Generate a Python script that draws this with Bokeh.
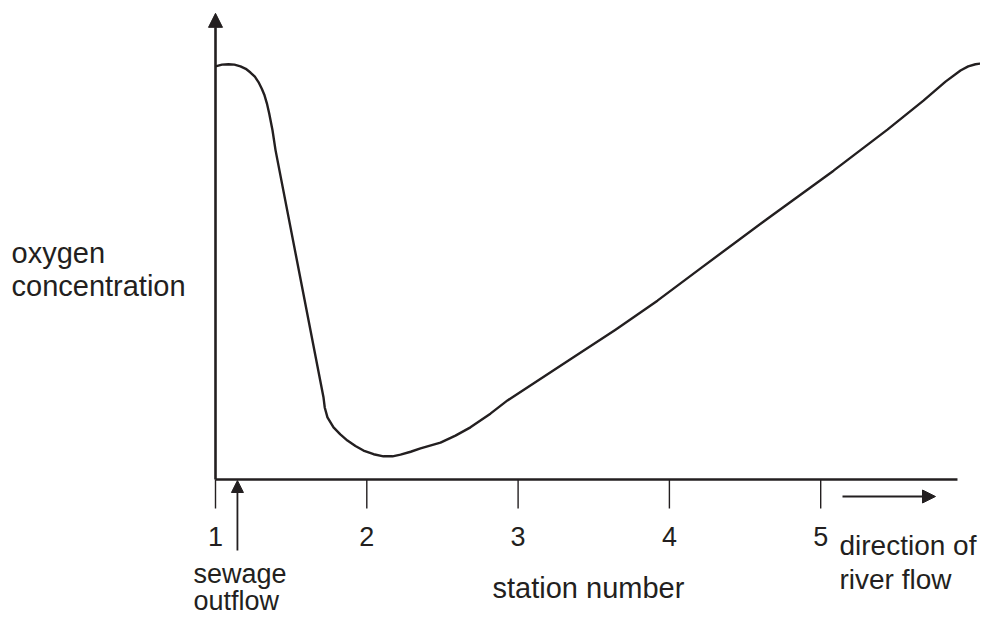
from bokeh.plotting import figure
from bokeh.models import Range1d, Arrow, NormalHead, ColumnDataSource
from bokeh.core.properties import value
from bokeh.embed import file_html
from bokeh.resources import INLINE

# ---- data ----
stations = [1, 2, 3, 4, 5]
tick_labels = ["1", "2", "3", "4", "5"]
curve_x = [1.000, 1.043, 1.086, 1.125, 1.165, 1.200, 1.231, 1.260, 1.284,
           1.306, 1.324, 1.340, 1.355, 1.377, 1.397,
           1.714, 1.722, 1.740, 1.780, 1.825, 1.872, 1.925, 1.978, 2.045,
           2.110, 2.170, 2.223, 2.290, 2.355, 2.487, 2.586, 2.685, 2.817,
           2.930, 3.366, 3.644, 3.921, 4.206, 4.648, 5.085, 5.441, 5.679,
           5.825, 5.924, 5.975, 6.023, 6.080, 6.135]
curve_y = [99.8, 100.2, 100.3, 100.2, 99.8, 99.2, 98.3, 97.3, 96.0,
           94.4, 92.8, 90.8, 88.4, 84.3, 79.5,
           19.8, 17.4, 15.0, 12.6, 10.9, 9.4, 8.1, 7.0, 6.1,
           5.6, 5.6, 6.0, 6.7, 7.5, 8.9, 10.6, 12.6, 15.9,
           19.1, 29.5, 36.2, 43.2, 51.0, 63.0, 74.6, 84.5, 91.5,
           96.1, 98.8, 99.8, 100.3, 100.6, 100.7]
x_axis_end = 5.904
y_axis_top = 112.6
sewage_station = 1.145

# ---- geometry helpers (canvas pixel -> data) ----
X0_PX, X_SCALE = 215.0, 151.3
Y0_PX, Y_SCALE = 479.0, 4.14
def dx(px):
    return 1 + (px - X0_PX) / X_SCALE
def dy(py):
    return (Y0_PX - py) / Y_SCALE

W, H = 980, 623
INK = "#231f20"
FONT = value("Liberation Sans")

p = figure(width=W, height=H, output_backend="svg", toolbar_location=None,
           x_range=Range1d(dx(0), dx(W)), y_range=Range1d(dy(H), dy(0)),
           x_axis_location=None, y_axis_location=None, min_border=0,
           outline_line_color=None, background_fill_color="white")
p.min_border_left = p.min_border_right = p.min_border_top = p.min_border_bottom = 0
p.grid.visible = False

# x axis line
p.segment(x0=[1], y0=[0], x1=[x_axis_end], y1=[0], line_color=INK, line_width=2.6)
# y axis with arrow
p.add_layout(Arrow(end=NormalHead(size=14, fill_color=INK, line_color=INK, line_width=1),
                   x_start=1, y_start=0, x_end=1, y_end=y_axis_top,
                   line_color=INK, line_width=2.6))
# ticks
tick_src = ColumnDataSource(dict(x=stations, y0=[0] * 5, y1=[dy(508)] * 5,
                                 lab=tick_labels, ly=[dy(536)] * 5))
p.segment(x0="x", y0="y0", x1="x", y1="y1", source=tick_src, line_color=INK, line_width=1.4)
p.text(x="x", y="ly", text="lab", source=tick_src, text_font=FONT, text_font_size="27px",
       text_align="center", text_baseline="alphabetic", text_color=INK)

# curve
p.line(curve_x, curve_y, line_color=INK, line_width=2.4, line_join="round")

# sewage arrow
p.add_layout(Arrow(end=NormalHead(size=12, fill_color=INK, line_color=INK, line_width=1),
                   x_start=sewage_station, y_start=dy(550), x_end=sewage_station, y_end=dy(480),
                   line_color=INK, line_width=1.8))
# direction arrow
p.add_layout(Arrow(end=NormalHead(size=13, fill_color=INK, line_color=INK, line_width=1),
                   x_start=dx(842), y_start=dy(496), x_end=dx(935), y_end=dy(496),
                   line_color=INK, line_width=1.8))

def label(txt, px, py, size="29px", align="left"):
    p.text(x=[dx(px)], y=[dy(py)], text=[txt], text_font=FONT, text_font_size=size,
           text_align=align, text_baseline="alphabetic", text_color=INK)

label("oxygen", 11, 252)
label("concentration", 11, 285)
label("sewage", 193, 573, "27px")
label("outflow", 193, 600, "27px")
label("station number", 492, 587)
label("direction of", 839, 545, "28px")
label("river flow", 839, 579, "28px")

open("out.html", "w").write(file_html(p, INLINE))
